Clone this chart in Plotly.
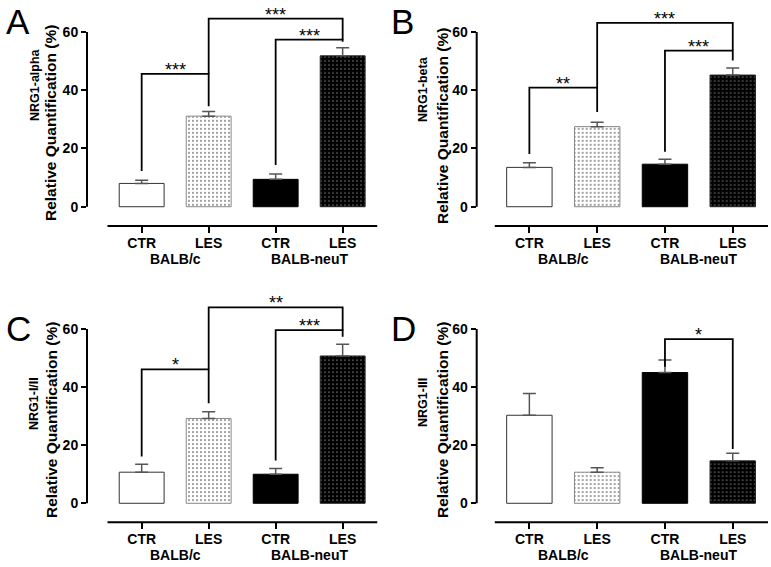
import plotly.graph_objects as go

# ---------------- data ----------------
categories = ["CTR", "LES", "CTR", "LES"]
groups = ["BALB/c", "BALB-neuT"]
panel_letters = ["A", "B", "C", "D"]
genes = ["NRG1-alpha", "NRG1-beta", "NRG1-I/II", "NRG1-III"]
y_title = "Relative Quantification (%)"
y_ticks = [0, 20, 40, 60]

means_A = [8.0, 31.1, 9.4, 51.8]
sem_A = [1.1, 1.6, 1.8, 2.8]
means_B = [13.5, 27.5, 14.6, 45.2]
sem_B = [1.6, 1.5, 1.7, 2.4]
means_C = [10.7, 29.2, 10.0, 50.7]
sem_C = [2.7, 2.3, 2.0, 4.0]
means_D = [30.3, 10.7, 45.0, 14.6]
sem_D = [7.5, 1.5, 4.3, 2.6]

# brackets: (left bar, right bar, left leg start, right leg start, bracket top, label)
brackets_A = [(0, 1, 12.3, 34.5, 45.6, "***"), (2, 3, 14.3, 56.6, 57.4, "***"),
              (1, 3, 45.6, 57.4, 64.6, "***")]
brackets_B = [(0, 1, 18.1, 32.5, 40.9, "**"), (2, 3, 18.9, 50.2, 53.6, "***"),
              (1, 3, 40.9, 53.6, 63.1, "***")]
brackets_C = [(0, 1, 16.1, 34.4, 46.1, "*"), (2, 3, 14.7, 57.3, 59.6, "***"),
              (1, 3, 46.1, 59.6, 67.4, "**")]
brackets_D = [(2, 3, 47.0, 18.7, 56.5, "*")]

all_means = [means_A, means_B, means_C, means_D]
all_sem = [sem_A, sem_B, sem_C, sem_D]
all_brackets = [brackets_A, brackets_B, brackets_C, brackets_D]

# ---------------- layout geometry ----------------
FONT = "Liberation Sans, Arial, sans-serif"
NARROW = "Liberation Sans Narrow, Arial Narrow, Liberation Sans, Arial, sans-serif"
W, H = 771, 567

geo = [
    dict(xdom=[87 / W, 377.5 / W], xr=[-0.816, 3.52], ydom=[0.6015, 0.995], yr=[-6.6, 70],
         letter=(4, 0.4), t1=(35, 85), t2=(50, 123), gshift=-33),
    dict(xdom=[476.7 / W, 768 / W], xr=[-0.777, 3.52], ydom=[0.6015, 0.995], yr=[-6.6, 70],
         letter=(389, 0.4), t1=(423, 89), t2=(442, 126), gshift=-33),
    dict(xdom=[87 / W, 377.5 / W], xr=[-0.816, 3.52], ydom=[0.0788, 0.4813], yr=[-6.55, 72],
         letter=(4, 307.4), t1=(34, 404), t2=(51, 420), gshift=-33),
    dict(xdom=[476.7 / W, 768 / W], xr=[-0.777, 3.52], ydom=[0.0788, 0.4813], yr=[-6.55, 72],
         letter=(389, 307.4), t1=(423, 403), t2=(442, 420), gshift=-33),
]

bar_styles = [
    dict(color="white", line=dict(color="#333333", width=1)),
    dict(color="white", line=dict(color="#888888", width=1),
         pattern=dict(shape=".", fgcolor="#111111", bgcolor="white", size=4, solidity=0.1,
                      fillmode="replace")),
    dict(color="black", line=dict(color="black", width=1)),
    dict(color="black", line=dict(color="#222222", width=1),
         pattern=dict(shape=".", fgcolor="#ffffff", bgcolor="black", size=4, solidity=0.07,
                      fillmode="replace")),
]

fig = go.Figure()
shapes = []
annotations = []
layout = {}

for p in range(4):
    g = geo[p]
    sfx = "" if p == 0 else str(p + 1)
    xa, ya = "x" + sfx, "y" + sfx
    xs = list(range(len(categories)))

    for k in xs:
        fig.add_trace(go.Bar(
            x=[xs[k]], y=[all_means[p][k]], xaxis=xa, yaxis=ya, width=0.67,
            marker=bar_styles[k],
            error_y=dict(type="data", array=[all_sem[p][k]], arrayminus=[0], symmetric=False,
                         color="#555555", thickness=1.5, width=6.5),
            showlegend=False, hoverinfo="skip"))

    for (i, j, yi, yj, yt, lab) in all_brackets[p]:
        fig.add_trace(go.Scatter(
            x=[xs[i], xs[i], xs[j], xs[j]], y=[yi, yt, yt, yj], xaxis=xa, yaxis=ya,
            mode="lines", line=dict(color="black", width=1.8),
            showlegend=False, hoverinfo="skip"))
        annotations.append(dict(
            x=(xs[i] + xs[j]) / 2, y=yt, xref=xa, yref=ya, text=lab, showarrow=False,
            xanchor="center", yanchor="bottom", yshift=-8,
            font=dict(family=FONT, size=18, color="black")))

    layout["xaxis" + sfx] = dict(
        domain=g["xdom"], range=g["xr"], anchor=ya, showline=False, showgrid=False,
        zeroline=False, tickmode="array", tickvals=xs, ticktext=categories,
        ticks="outside", ticklen=6, tickwidth=2, tickcolor="black", ticklabelstandoff=-2,
        tickfont=dict(family=FONT, size=14, color="black", weight="bold"), fixedrange=True)
    layout["yaxis" + sfx] = dict(
        domain=g["ydom"], range=g["yr"], anchor=xa, showline=False, showgrid=False,
        zeroline=False, tickmode="array", tickvals=y_ticks, ticks="outside", ticklen=5,
        tickwidth=2, tickcolor="black",
        tickfont=dict(family=FONT, size=14, color="black", weight="bold"), fixedrange=True)

    shapes.append(dict(type="line", xref=xa + " domain", yref=ya, x0=0, x1=0, y0=0, y1=y_ticks[-1],
                       line=dict(color="black", width=2)))
    shapes.append(dict(type="line", xref=xa, yref=ya + " domain", x0=-0.51, x1=3.52, y0=0, y1=0,
                       line=dict(color="black", width=2)))

    for k, grp in enumerate(groups):
        annotations.append(dict(
            x=2 * k + 0.5, y=0, xref=xa, yref=ya + " domain", text=grp, showarrow=False,
            xanchor="center", yanchor="middle", yshift=g["gshift"],
            font=dict(family=FONT, size=14, color="black", weight="bold")))

    lx, ly = g["letter"]
    annotations.append(dict(
        x=lx / W, y=1 - ly / H, xref="paper", yref="paper", text=panel_letters[p],
        showarrow=False, xanchor="left", yanchor="top",
        font=dict(family=FONT, size=35, color="black")))

    t1x, t1y = g["t1"]
    annotations.append(dict(
        x=t1x / W, y=1 - t1y / H, xref="paper", yref="paper", text=genes[p], textangle=-90,
        showarrow=False, xanchor="center", yanchor="middle",
        font=dict(family=NARROW, size=12.5, color="black", weight="bold")))
    t2x, t2y = g["t2"]
    annotations.append(dict(
        x=t2x / W, y=1 - t2y / H, xref="paper", yref="paper", text=y_title, textangle=-90,
        showarrow=False, xanchor="center", yanchor="middle",
        font=dict(family=FONT, size=15.5, color="black", weight="bold")))

fig.update_layout(
    width=W, height=H, margin=dict(l=0, r=0, t=0, b=0),
    paper_bgcolor="white", plot_bgcolor="white", barmode="overlay",
    shapes=shapes, annotations=annotations, **layout)

fig.write_html("out.html", config={"displayModeBar": False},
               post_script="document.body.style.margin='0';document.body.style.overflow='hidden';")
